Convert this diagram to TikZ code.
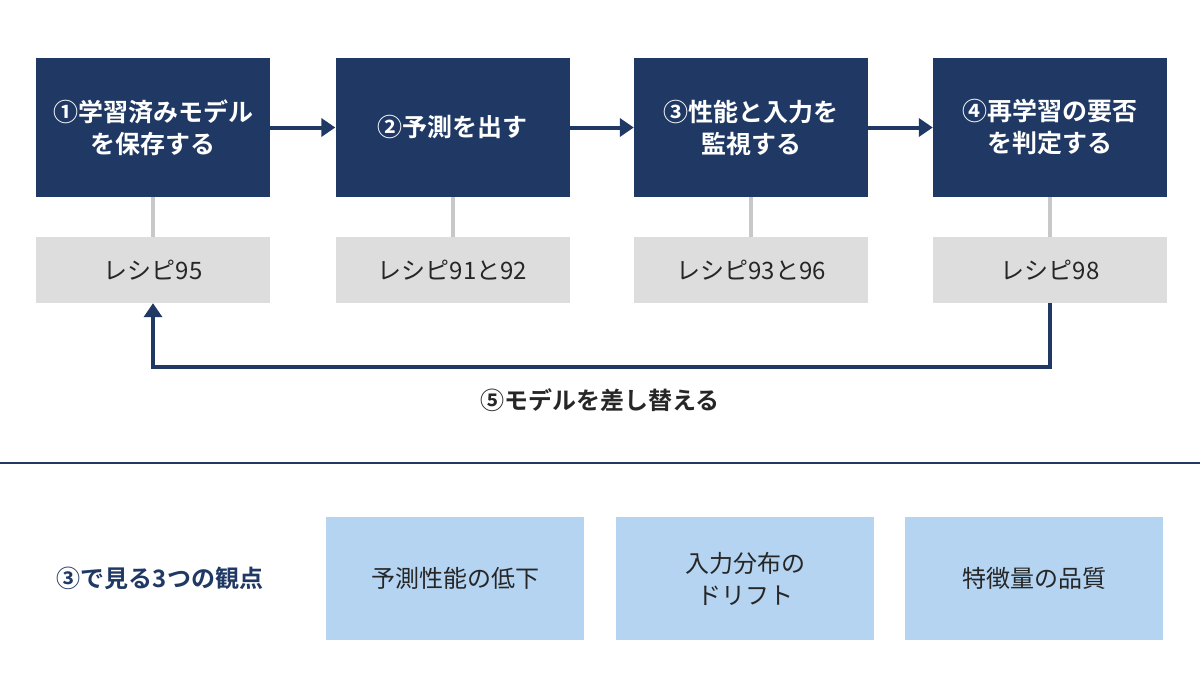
\documentclass[tikz,border=0pt]{standalone}
\usepackage{fontspec}
\setmainfont{Noto Sans CJK JP}[BoldFont={* Bold}]
\usetikzlibrary{arrows.meta}
\definecolor{navy}{HTML}{1F3864}
\definecolor{gbox}{HTML}{DDDDDD}
\definecolor{lblue}{HTML}{B4D4F1}
\definecolor{gline}{HTML}{C8C8C8}
\begin{document}
\begin{tikzpicture}[x=1pt,y=-1pt,
 stage/.style={fill=navy,text=white,font=\bfseries\fontsize{25}{32}\selectfont,minimum width=234pt,minimum height=139pt,align=center,inner sep=0pt},
 rec/.style={fill=gbox,text=black!85,font=\fontsize{24}{30}\selectfont,minimum width=234pt,minimum height=66pt,inner sep=0pt},
 asp/.style={fill=lblue,text=black!85,font=\fontsize{24}{32}\selectfont,minimum width=258pt,minimum height=123pt,align=center,inner sep=0pt},
 arr/.style={navy,line width=4pt,-{Triangle[length=14pt,width=18pt]}},
 tie/.style={gline,line width=4pt}]
\useasboundingbox (0,0) rectangle (1200,675);
\fill[white] (0,0) rectangle (1200,675);
\node[stage] (s1) at (153,127.5) {①学習済みモデル\\を保存する};
\node[stage] (s2) at (452.5,127.5) {②予測を出す};
\node[stage] (s3) at (751,127.5) {③性能と入力を\\監視する};
\node[stage] (s4) at (1050,127.5) {④再学習の要否\\を判定する};
\node[rec] (r1) at (153,270) {レシピ95};
\node[rec] (r2) at (452.5,270) {レシピ91と92};
\node[rec] (r3) at (751,270) {レシピ93と96};
\node[rec] (r4) at (1050,270) {レシピ98};
\foreach \i in {1,2,3,4} \draw[tie] (s\i.south) -- (r\i.north);
\draw[arr] (s1) -- (s2);
\draw[arr] (s2) -- (s3);
\draw[arr] (s3) -- (s4);
\coordinate (c1) at (1050,367);
\coordinate (c2) at (153,367);
\draw[arr] (r4.south) -- (c1) -- (c2) -- (r1.south);
\node[font=\bfseries\fontsize{24}{30}\selectfont,text=black!85] (lab) at (600,400) {⑤モデルを差し替える};
\coordinate (h1) at (0,463);
\coordinate (h2) at (1200,463);
\draw[navy,line width=2.5pt] (h1) -- (h2);
\node[font=\bfseries\fontsize{24}{30}\selectfont,text=navy] (t) at (160,578) {③で見る3つの観点};
\node[asp] (a1) at (455,578.5) {予測性能の低下};
\node[asp] (a2) at (745,578.5) {入力分布の\\ドリフト};
\node[asp] (a3) at (1034,578.5) {特徴量の品質};
\end{tikzpicture}
\end{document}
